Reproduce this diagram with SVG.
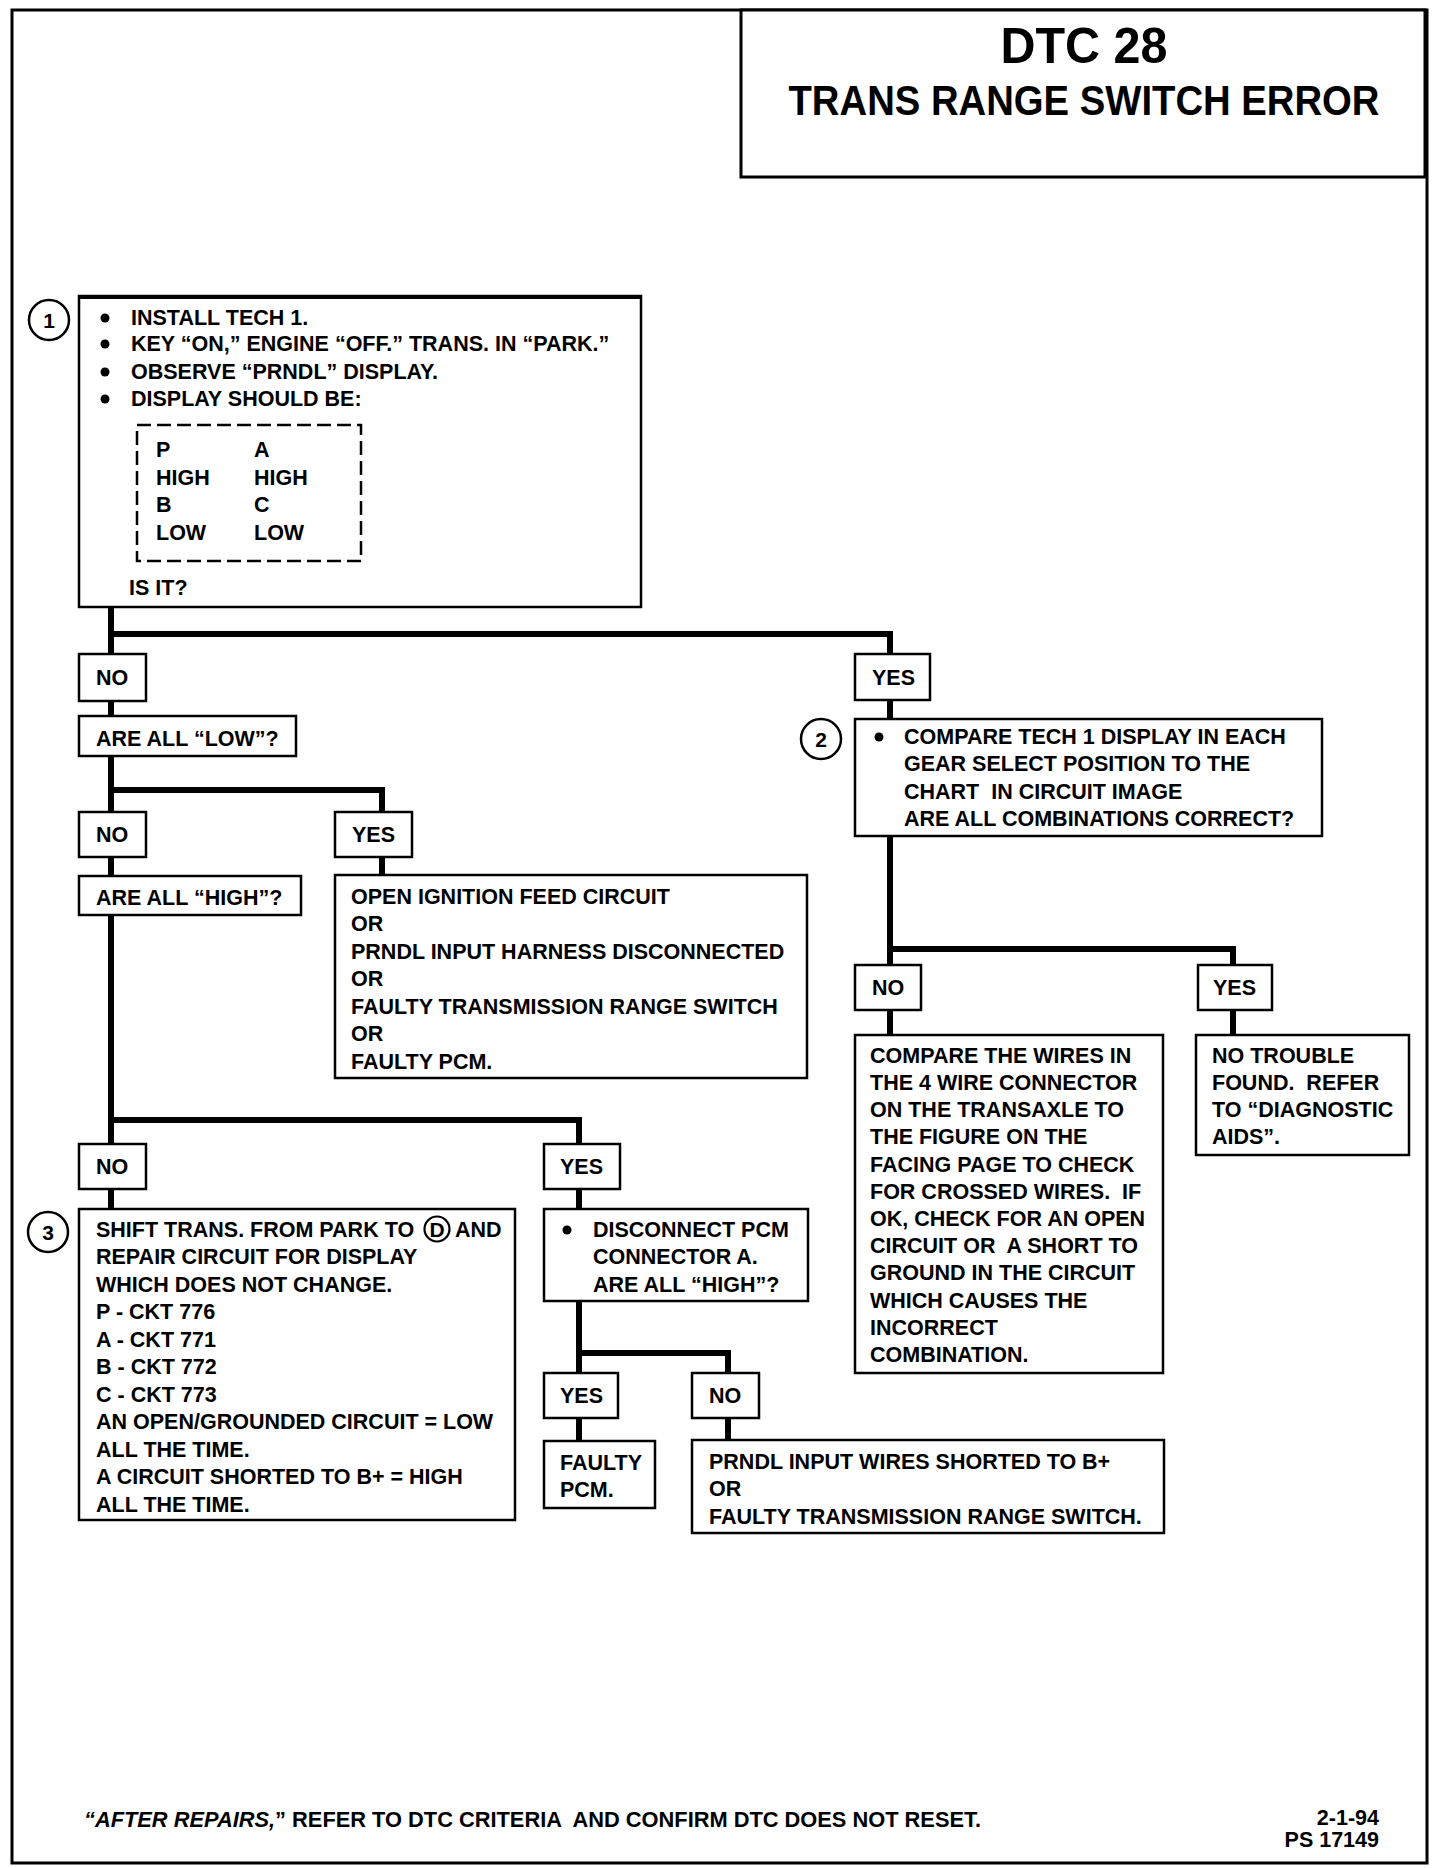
<svg xmlns="http://www.w3.org/2000/svg" width="1440" height="1868" viewBox="0 0 1440 1868">
<style>
.box{fill:#fff;stroke:#000;stroke-width:2.5}
.dash{fill:none;stroke:#000;stroke-width:2.5;stroke-dasharray:14 6}
.conn{fill:none;stroke:#000;stroke-width:6;stroke-linejoin:miter}
.circ{fill:#fff;stroke:#000;stroke-width:2.5}
.t{font-family:"Liberation Sans",Arial,sans-serif;font-weight:bold;font-size:21.5px;fill:#000}
.num{font-family:"Liberation Sans",Arial,sans-serif;font-weight:bold;font-size:21px;fill:#000;text-anchor:middle}
.title{font-family:"Liberation Sans",Arial,sans-serif;font-weight:bold;fill:#000;text-anchor:middle}
</style>
<rect x="0" y="0" width="1440" height="1868" fill="#fff"/>
<rect x="12" y="10" width="1415" height="1853" fill="none" stroke="#000" stroke-width="3"/>

<g id="title">
<rect x="741" y="10" width="684" height="167" fill="#fff" stroke="#000" stroke-width="3"/>
<text class="title" x="1084" y="63" font-size="50" textLength="167" lengthAdjust="spacingAndGlyphs">DTC 28</text>
<text class="title" x="1084" y="115" font-size="42" textLength="591" lengthAdjust="spacingAndGlyphs">TRANS RANGE SWITCH ERROR</text>
</g>

<g id="connectors">
<path class="conn" d="M111 607 V654 M111 634 H890 V654"/>
<path class="conn" d="M111 701 V716"/>
<path class="conn" d="M890 700 V719"/>
<path class="conn" d="M111 756 V812 M111 790 H382 V812"/>
<path class="conn" d="M111 857 V876"/>
<path class="conn" d="M382 857 V875"/>
<path class="conn" d="M111 915 V1144 M111 1120 H579 V1144"/>
<path class="conn" d="M111 1189 V1209"/>
<path class="conn" d="M579 1189 V1209"/>
<path class="conn" d="M579 1301 V1373 M579 1353 H728 V1373"/>
<path class="conn" d="M579 1418 V1441"/>
<path class="conn" d="M728 1418 V1440"/>
<path class="conn" d="M890 836 V965 M890 949 H1233 V965"/>
<path class="conn" d="M890 1010 V1035"/>
<path class="conn" d="M1233 1010 V1035"/>
</g>

<g id="step1">
<circle class="circ" cx="49" cy="320" r="20"/>
<text class="num" x="49" y="328">1</text>
<rect class="box" x="79" y="296" width="562" height="311"/>
<line x1="79" y1="297" x2="641" y2="297" stroke="#000" stroke-width="4"/>
<circle cx="105" cy="318" r="4.5"/>
<circle cx="105" cy="344" r="4.5"/>
<circle cx="105" cy="372" r="4.5"/>
<circle cx="105" cy="399" r="4.5"/>
<text class="t" x="131" y="325">INSTALL TECH 1.</text>
<text class="t" x="131" y="351">KEY “ON,” ENGINE “OFF.” TRANS. IN “PARK.”</text>
<text class="t" x="131" y="379">OBSERVE “PRNDL” DISPLAY.</text>
<text class="t" x="131" y="406">DISPLAY SHOULD BE:</text>
<rect class="dash" x="137" y="425" width="224" height="136"/>
<text class="t" x="156" y="457">P</text>
<text class="t" x="254" y="457">A</text>
<text class="t" x="156" y="485">HIGH</text>
<text class="t" x="254" y="485">HIGH</text>
<text class="t" x="156" y="512">B</text>
<text class="t" x="254" y="512">C</text>
<text class="t" x="156" y="540">LOW</text>
<text class="t" x="254" y="540">LOW</text>
<text class="t" x="129" y="595">IS IT?</text>
</g>

<g id="no1"><rect class="box" x="79" y="654" width="67" height="47"/><text class="t" x="96" y="685">NO</text></g>
<g id="yes1"><rect class="box" x="855" y="654" width="75" height="46"/><text class="t" x="872" y="685">YES</text></g>

<g id="allLow"><rect class="box" x="79" y="716" width="217" height="40"/><text class="t" x="96" y="746">ARE ALL “LOW”?</text></g>

<g id="no2"><rect class="box" x="79" y="812" width="67" height="45"/><text class="t" x="96" y="842">NO</text></g>
<g id="yes2"><rect class="box" x="335" y="812" width="77" height="45"/><text class="t" x="352" y="842">YES</text></g>

<g id="allHigh"><rect class="box" x="79" y="876" width="222" height="39"/><text class="t" x="96" y="905">ARE ALL “HIGH”?</text></g>

<g id="openFeed">
<rect class="box" x="335" y="875" width="472" height="203"/>
<text class="t" x="351" y="904">OPEN IGNITION FEED CIRCUIT</text>
<text class="t" x="351" y="931">OR</text>
<text class="t" x="351" y="959">PRNDL INPUT HARNESS DISCONNECTED</text>
<text class="t" x="351" y="986">OR</text>
<text class="t" x="351" y="1014">FAULTY TRANSMISSION RANGE SWITCH</text>
<text class="t" x="351" y="1041">OR</text>
<text class="t" x="351" y="1069">FAULTY PCM.</text>
</g>

<g id="no3"><rect class="box" x="79" y="1144" width="67" height="45"/><text class="t" x="96" y="1174">NO</text></g>
<g id="yes3"><rect class="box" x="544" y="1144" width="76" height="45"/><text class="t" x="560" y="1174">YES</text></g>

<g id="step3">
<circle class="circ" cx="48" cy="1232" r="20"/>
<text class="num" x="48" y="1240">3</text>
<rect class="box" x="79" y="1209" width="436" height="311"/>
<text class="t" x="96" y="1237">SHIFT TRANS. FROM PARK TO</text>
<circle cx="437" cy="1229" r="12.5" fill="none" stroke="#000" stroke-width="2.2"/>
<text class="num" x="437" y="1236.5" font-size="19">D</text>
<text class="t" x="455" y="1237">AND</text>
<text class="t" x="96" y="1264">REPAIR CIRCUIT FOR DISPLAY</text>
<text class="t" x="96" y="1292">WHICH DOES NOT CHANGE.</text>
<text class="t" x="96" y="1319">P - CKT 776</text>
<text class="t" x="96" y="1347">A - CKT 771</text>
<text class="t" x="96" y="1374">B - CKT 772</text>
<text class="t" x="96" y="1402">C - CKT 773</text>
<text class="t" x="96" y="1429">AN OPEN/GROUNDED CIRCUIT = LOW</text>
<text class="t" x="96" y="1457">ALL THE TIME.</text>
<text class="t" x="96" y="1484">A CIRCUIT SHORTED TO B+ = HIGH</text>
<text class="t" x="96" y="1512">ALL THE TIME.</text>
</g>

<g id="disconnect">
<rect class="box" x="544" y="1209" width="264" height="92"/>
<circle cx="567" cy="1230" r="4.5"/>
<text class="t" x="593" y="1237">DISCONNECT PCM</text>
<text class="t" x="593" y="1264">CONNECTOR A.</text>
<text class="t" x="593" y="1292">ARE ALL “HIGH”?</text>
</g>

<g id="yes4"><rect class="box" x="544" y="1373" width="74" height="45"/><text class="t" x="560" y="1403">YES</text></g>
<g id="no4"><rect class="box" x="692" y="1373" width="67" height="45"/><text class="t" x="709" y="1403">NO</text></g>

<g id="faultyPcm">
<rect class="box" x="544" y="1441" width="111" height="67"/>
<text class="t" x="560" y="1470">FAULTY</text>
<text class="t" x="560" y="1497">PCM.</text>
</g>

<g id="prndlShort">
<rect class="box" x="692" y="1440" width="472" height="93"/>
<text class="t" x="709" y="1469">PRNDL INPUT WIRES SHORTED TO B+</text>
<text class="t" x="709" y="1496">OR</text>
<text class="t" x="709" y="1524">FAULTY TRANSMISSION RANGE SWITCH.</text>
</g>

<g id="step2">
<circle class="circ" cx="821" cy="739" r="20"/>
<text class="num" x="821" y="747">2</text>
<rect class="box" x="855" y="719" width="467" height="117"/>
<circle cx="879" cy="737" r="4.5"/>
<text class="t" x="904" y="744">COMPARE TECH 1 DISPLAY IN EACH</text>
<text class="t" x="904" y="771">GEAR SELECT POSITION TO THE</text>
<text class="t" x="904" y="799" xml:space="preserve">CHART  IN CIRCUIT IMAGE</text>
<text class="t" x="904" y="826">ARE ALL COMBINATIONS CORRECT?</text>
</g>

<g id="no5"><rect class="box" x="855" y="965" width="66" height="45"/><text class="t" x="872" y="995">NO</text></g>
<g id="yes5"><rect class="box" x="1198" y="965" width="74" height="45"/><text class="t" x="1213" y="995">YES</text></g>

<g id="compareWires">
<rect class="box" x="855" y="1035" width="308" height="338"/>
<text class="t" x="870" y="1063">COMPARE THE WIRES IN</text>
<text class="t" x="870" y="1090">THE 4 WIRE CONNECTOR</text>
<text class="t" x="870" y="1117">ON THE TRANSAXLE TO</text>
<text class="t" x="870" y="1144">THE FIGURE ON THE</text>
<text class="t" x="870" y="1172">FACING PAGE TO CHECK</text>
<text class="t" x="870" y="1199" xml:space="preserve">FOR CROSSED WIRES.  IF</text>
<text class="t" x="870" y="1226">OK, CHECK FOR AN OPEN</text>
<text class="t" x="870" y="1253" xml:space="preserve">CIRCUIT OR  A SHORT TO</text>
<text class="t" x="870" y="1280">GROUND IN THE CIRCUIT</text>
<text class="t" x="870" y="1308">WHICH CAUSES THE</text>
<text class="t" x="870" y="1335">INCORRECT</text>
<text class="t" x="870" y="1362">COMBINATION.</text>
</g>

<g id="noTrouble">
<rect class="box" x="1196" y="1035" width="213" height="120"/>
<text class="t" x="1212" y="1063">NO TROUBLE</text>
<text class="t" x="1212" y="1090" xml:space="preserve">FOUND.  REFER</text>
<text class="t" x="1212" y="1117">TO “DIAGNOSTIC</text>
<text class="t" x="1212" y="1144">AIDS”.</text>
</g>

<g id="footer">
<text class="t" x="84" y="1827" xml:space="preserve" textLength="897" lengthAdjust="spacingAndGlyphs"><tspan font-style="italic">“AFTER REPAIRS,</tspan>” REFER TO DTC CRITERIA  AND CONFIRM DTC DOES NOT RESET.</text>
<text class="t" x="1379" y="1825" text-anchor="end" font-size="19">2-1-94</text>
<text class="t" x="1379" y="1847" text-anchor="end" font-size="19">PS 17149</text>
</g>
</svg>
